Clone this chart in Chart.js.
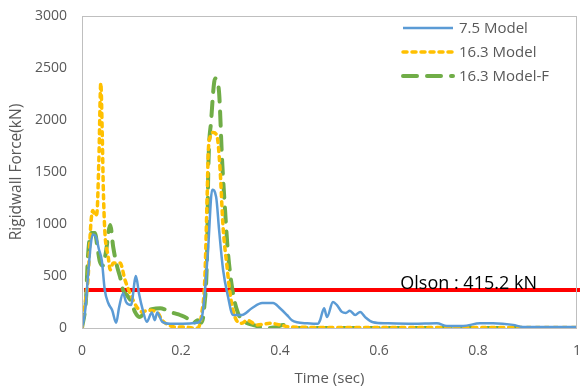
<!DOCTYPE html>
<html>
<head>
<meta charset="utf-8">
<script src="https://cdn.jsdelivr.net/npm/chart.js@4.4.1/dist/chart.umd.min.js"></script>
<style>
  html, body { margin: 0; padding: 0; background: #fff; }
  #wrap { width: 580px; height: 392px; }
</style>
</head>
<body>
<div id="wrap"><canvas id="forceChart" width="580" height="392"></canvas></div>
<script>
// Rigidwall force vs time
const blueTime = [0, 0.006, 0.012, 0.018, 0.022, 0.028, 0.034, 0.040, 0.046, 0.053, 0.061, 0.069, 0.075, 0.083, 0.089, 0.099, 0.109, 0.115, 0.123, 0.131, 0.141, 0.147, 0.152, 0.162, 0.178, 0.204, 0.232, 0.242, 0.248, 0.255, 0.263, 0.271, 0.277, 0.285, 0.295, 0.305, 0.323, 0.343, 0.364, 0.386, 0.400, 0.414, 0.424, 0.434, 0.455, 0.477, 0.481, 0.489, 0.495, 0.507, 0.515, 0.525, 0.533, 0.541, 0.552, 0.562, 0.572, 0.588, 0.616, 0.669, 0.717, 0.737, 0.770, 0.804, 0.830, 0.871, 0.891, 0.939, 1.0];
const blueForce = [0, 150, 490, 815, 900, 880, 760, 650, 365, 240, 170, 50, 200, 335, 250, 220, 500, 335, 170, 60, 150, 75, 150, 60, 40, 40, 50, 100, 335, 780, 1330, 1260, 940, 560, 300, 125, 125, 190, 240, 240, 190, 125, 75, 55, 45, 40, 75, 190, 105, 250, 220, 155, 145, 165, 125, 155, 105, 55, 45, 40, 45, 20, 20, 45, 45, 30, 10, 10, 10];

const yellowTime = [0, 0.008, 0.012, 0.018, 0.022, 0.026, 0.030, 0.034, 0.038, 0.041, 0.043, 0.046, 0.053, 0.057, 0.063, 0.077, 0.087, 0.097, 0.111, 0.121, 0.133, 0.152, 0.162, 0.174, 0.188, 0.208, 0.224, 0.234, 0.242, 0.248, 0.253, 0.255, 0.259, 0.265, 0.273, 0.279, 0.285, 0.293, 0.299, 0.309, 0.323, 0.333, 0.354, 0.380, 0.400, 0.420, 0.5, 0.6, 0.7, 0.8, 0.9, 1.0];
const yellowForce = [0, 300, 460, 1010, 1130, 1080, 1100, 1600, 2355, 1840, 1355, 940, 685, 560, 625, 625, 460, 335, 200, 155, 170, 150, 75, 30, 10, 10, 0, 0, 145, 460, 1300, 1680, 1840, 1880, 1840, 1520, 970, 590, 335, 105, 45, 75, 30, 45, 30, 10, 5, 5, 5, 5, 5, 5];

const greenTime = [0, 0.008, 0.012, 0.018, 0.026, 0.032, 0.036, 0.042, 0.048, 0.057, 0.063, 0.071, 0.077, 0.083, 0.091, 0.101, 0.107, 0.117, 0.127, 0.141, 0.158, 0.172, 0.184, 0.198, 0.212, 0.224, 0.234, 0.240, 0.247, 0.253, 0.255, 0.261, 0.269, 0.271, 0.277, 0.283, 0.289, 0.295, 0.305, 0.315, 0.329, 0.345, 0.373, 0.394, 0.406, 0.420, 0.5, 0.6, 0.7, 0.8, 0.9, 1.0];
const greenForce = [0, 270, 685, 913, 913, 750, 640, 600, 720, 990, 780, 590, 490, 365, 315, 240, 155, 105, 155, 180, 190, 170, 145, 125, 95, 45, 75, 50, 200, 780, 1490, 2000, 2400, 2390, 2260, 1615, 1135, 720, 335, 145, 60, 30, 0, 10, 30, 0, 0, 0, 0, 0, 0, 0];

const olsonTime = [0.004, 1.01];
const olsonForce = [365, 365];
const olsonLabel = 'Olson : 415.2 kN';

const seriesNames = ['7.5 Model', '16.3 Model', '16.3 Model-F'];
const yTicks = [0, 500, 1000, 1500, 2000, 2500, 3000];
const xTicks = [0, 0.2, 0.4, 0.6, 0.8, 1];

const BLUE = '#5B9BD5';
const YELLOW = '#FFC000';
const GREEN = '#70AD47';
const RED = '#FF0000';
const GRAY = '#595959';
const FONT = '"Open Sans", "Liberation Sans", sans-serif';

const toPoints = (t, v) => t.map((x, i) => ({ x, y: v[i] }));

// frame round the plot, legend and the Olson label
const decorations = {
  id: 'decorations',
  afterDatasetsDraw(chart) {
    const { ctx, chartArea: a, scales } = chart;
    ctx.save();
    ctx.strokeStyle = '#BFBFBF';
    ctx.lineWidth = 1;
    ctx.strokeRect(a.left + 0.5, a.top + 0.5, a.right - a.left - 1, a.bottom - a.top);

    // legend
    const lx0 = 403, lx1 = 453, ly0 = 28, step = 24;
    ctx.font = '15px ' + FONT;
    ctx.textBaseline = 'middle';
    ctx.textAlign = 'left';
    chart.data.datasets.slice(0, 3).forEach((ds, i) => {
      const y = ly0 + i * step;
      ctx.beginPath();
      ctx.strokeStyle = ds.borderColor;
      ctx.lineWidth = ds.borderWidth;
      ctx.lineCap = ds.borderCapStyle || 'butt';
      ctx.setLineDash(ds.borderDash || []);
      ctx.moveTo(lx0, y);
      ctx.lineTo(lx1, y);
      ctx.stroke();
      ctx.setLineDash([]);
      ctx.fillStyle = GRAY;
      ctx.fillText(ds.label, 459, y + 1);
    });

    // Olson label sitting on the red line
    ctx.fillStyle = '#000';
    ctx.font = '18px ' + FONT;
    ctx.textBaseline = 'alphabetic';
    ctx.fillText(olsonLabel, scales.x.getPixelForValue(0.643), scales.y.getPixelForValue(olsonForce[0]) - 1);
    ctx.restore();
  }
};

new Chart(document.getElementById('forceChart'), {
  type: 'line',
  data: {
    datasets: [
      {
        label: seriesNames[0],
        data: toPoints(blueTime, blueForce),
        borderColor: BLUE,
        borderWidth: 2.5,
        pointRadius: 0,
        cubicInterpolationMode: 'monotone'
      },
      {
        label: seriesNames[1],
        data: toPoints(yellowTime, yellowForce),
        borderColor: YELLOW,
        borderWidth: 3.5,
        borderDash: [4, 5],
        borderCapStyle: 'round',
        pointRadius: 0,
        cubicInterpolationMode: 'monotone'
      },
      {
        label: seriesNames[2],
        data: toPoints(greenTime, greenForce),
        borderColor: GREEN,
        borderWidth: 4,
        borderDash: [14, 10],
        borderCapStyle: 'round',
        pointRadius: 0,
        cubicInterpolationMode: 'monotone'
      },
      {
        label: 'Olson',
        data: toPoints(olsonTime, olsonForce),
        borderColor: RED,
        borderWidth: 4,
        pointRadius: 0,
        clip: 10
      }
    ]
  },
  options: {
    responsive: false,
    animation: false,
    layout: { padding: { top: 16, right: 3, left: 0, bottom: 0 } },
    plugins: {
      legend: { display: false },
      tooltip: { enabled: false }
    },
    scales: {
      x: {
        type: 'linear',
        min: 0,
        max: 1,
        afterBuildTicks: s => { s.ticks = xTicks.map(value => ({ value })); },
        ticks: { color: GRAY, font: { family: FONT, size: 14 }, padding: 15, maxRotation: 0,
                  callback: v => String(v) },
        grid: { display: false, drawTicks: false },
        border: { display: false },
        title: { display: true, text: 'Time (sec)', color: GRAY, font: { family: FONT, size: 15 }, padding: { top: 2 } },
        afterFit: s => { s.height = 64; s.paddingLeft = 0; s.paddingRight = 0; }
      },
      y: {
        min: 0,
        max: 3000,
        afterBuildTicks: s => { s.ticks = yTicks.map(value => ({ value })); },
        ticks: { color: GRAY, font: { family: FONT, size: 14 }, padding: 15, callback: v => String(v) },
        grid: { display: false, drawTicks: false },
        border: { display: false },
        title: { display: true, text: 'Rigidwall Force(kN)', color: GRAY, font: { family: FONT, size: 15.5 }, padding: { top: 7, bottom: 6 } },
        afterFit: s => { s.width = 82; s.paddingTop = 0; s.paddingBottom = 0; }
      }
    }
  },
  plugins: [decorations]
});
</script>
</body>
</html>
